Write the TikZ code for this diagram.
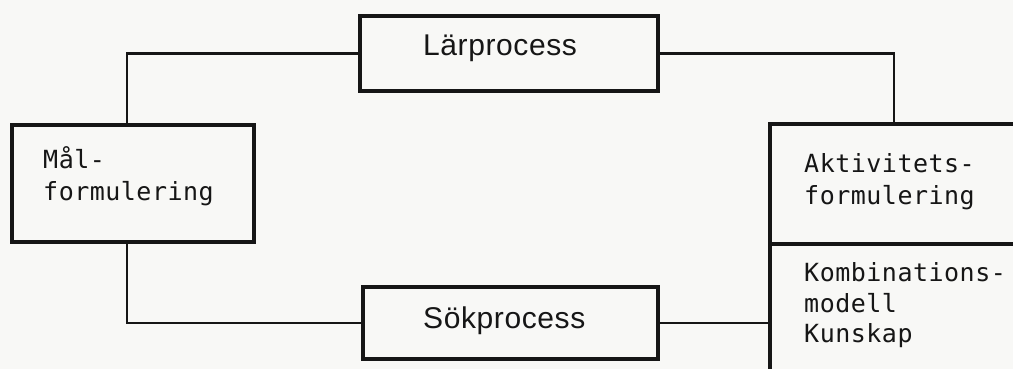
\documentclass[tikz,border=0pt]{standalone}
\usepackage{fontspec}
\usetikzlibrary{calc}
\newfontfamily\typefont[LetterSpace=2]{DejaVu Sans Mono}
\newfontfamily\labelfont[LetterSpace=2]{Liberation Sans}
\definecolor{paper}{HTML}{F8F8F6}
\definecolor{ink}{HTML}{161616}
\tikzset{
  box/.style={draw=ink, line width=3.5pt, rectangle, inner sep=0pt, outer sep=0pt, anchor=north west},
  link/.style={draw=ink, line width=2.6pt},
  mono/.style={text=ink, inner sep=0pt, anchor=base west, font=\typefont\fontsize{25}{30}\selectfont},
  sans/.style={text=ink, inner sep=0pt, anchor=base west, font=\labelfont\fontsize{30}{36}\selectfont},
}
\begin{document}
\begin{tikzpicture}[x=1pt, y=-1pt]
  \useasboundingbox (0,0) rectangle (1013,369);
  \fill[paper] (0,0) rectangle (1013,369);
  \clip (0,0) rectangle (1013,369);

  % boxes
  \node[box, minimum width=298pt, minimum height=75pt] (lar) at (360,16) {};
  \node[box, minimum width=295pt, minimum height=72pt] (sok) at (363,287) {};
  \node[box, minimum width=242pt, minimum height=117pt] (mal) at (12,125) {};
  \node[box, minimum width=300pt, minimum height=120pt] (akt) at (770,124) {};
  \node[box, minimum width=300pt, minimum height=160pt] (komb) at (770,244) {};

  % texts
  \node[sans] (lartext) at (423,56) {Lärprocess};
  \node[sans] (soktext) at (423,328) {Sökprocess};
  \node[mono] (mal1) at (43,168) {Mål-};
  \node[mono] (mal2) at (43,200) {formulering};
  \node[mono] (akt1) at (804,172) {Aktivitets-};
  \node[mono] (akt2) at (804,204) {formulering};
  \node[mono] (komb1) at (804,281) {Kombinations-};
  \node[mono] (komb2) at (804,312) {modell};
  \node[mono] (komb3) at (804,342) {Kunskap};

  % connectors
  \coordinate (malport) at ($(mal.north west)+(115,0)$);
  \coordinate (malportb) at ($(mal.south west)+(115,0)$);
  \coordinate (aktport) at ($(akt.north west)+(124,0)$);
  \draw[link] (lar.west) -| (malport);
  \draw[link] (lar.east) -| (aktport);
  \draw[link] (malportb) |- (sok.west);
  \draw[link] (sok.east) -- (sok.east -| komb.west);
\end{tikzpicture}
\end{document}
